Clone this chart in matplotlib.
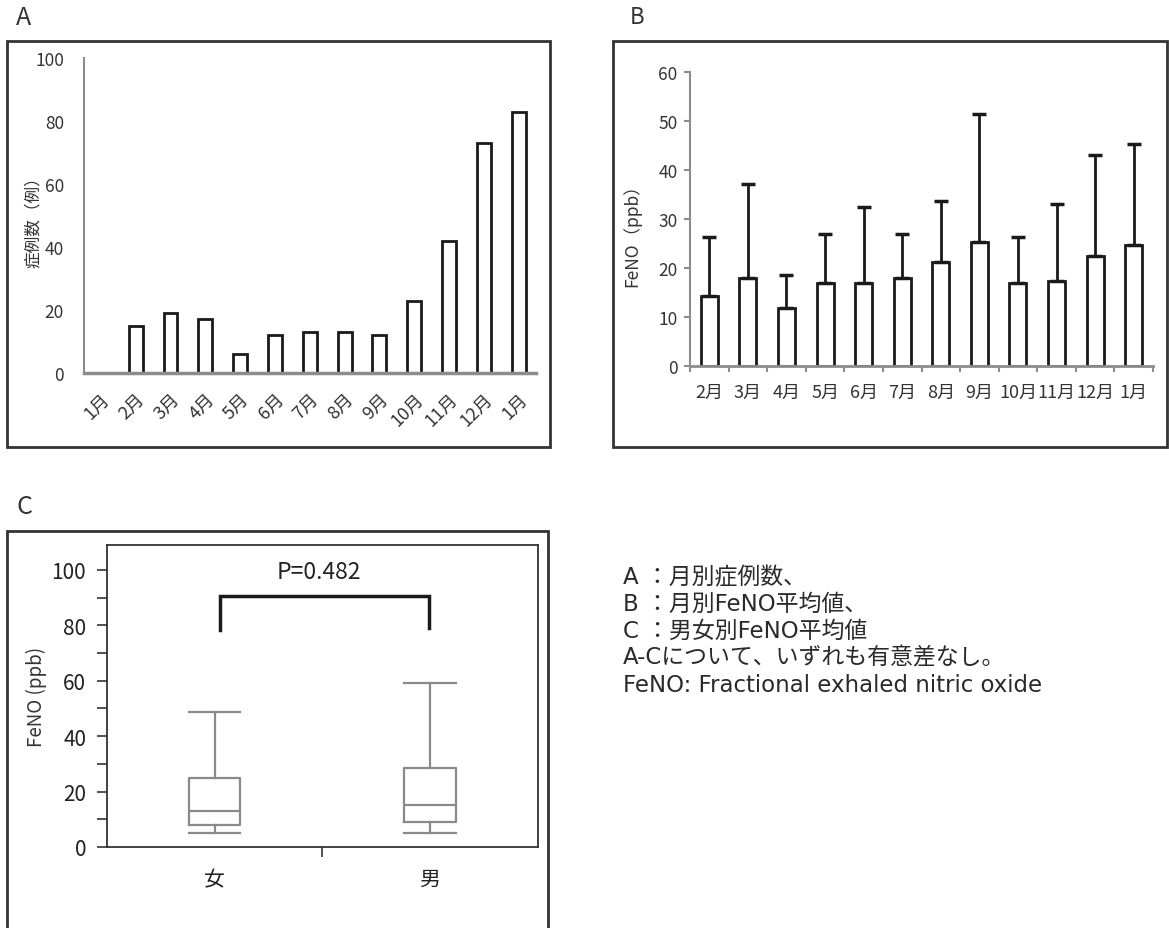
import matplotlib
matplotlib.use("Agg")
import matplotlib.pyplot as plt
from matplotlib.patches import Rectangle

plt.rcParams['font.family'] = ['Noto Sans CJK JP', 'DejaVu Sans']

# A: monthly case counts
months_a = ['1月', '2月', '3月', '4月', '5月', '6月', '7月', '8月', '9月',
            '10月', '11月', '12月', '1月']
cases = [0, 15, 19, 17, 6, 12, 13, 13, 12, 23, 42, 73, 83]

# B: monthly FeNO mean and SD
months_b = ['2月', '3月', '4月', '5月', '6月', '7月', '8月', '9月',
            '10月', '11月', '12月', '1月']
feno_mean = [14.2, 18.0, 11.8, 16.9, 16.9, 18.0, 21.3, 25.3, 16.9, 17.4, 22.5, 24.7]
feno_sd = [12.1, 19.1, 6.7, 10.0, 15.6, 8.9, 12.3, 26.2, 9.4, 15.7, 20.6, 20.7]

# C: FeNO by sex (box plot stats)
sexes = ['女', '男']
whis_lo = [5, 5]
q1 = [7.8, 9.0]
median = [12.9, 15.3]
q3 = [24.9, 28.5]
whis_hi = [48.6, 59.1]
p_label = 'P=0.482'

notes = ['A ：月別症例数、',
         'B ：月別FeNO平均値、',
         'C ：男女別FeNO平均値',
         'A-Cについて、いずれも有意差なし。',
         'FeNO: Fractional exhaled nitric oxide']

W, H = 1169, 929
fig = plt.figure(figsize=(W / 100, H / 100), dpi=100)


def fx(px):
    return px / W


def fy(py):
    return 1 - py / H


def frame(x0, y0, x1, y1):
    fig.patches.append(Rectangle((fx(x0), fy(y1)), fx(x1 - x0), (y1 - y0) / H,
                                 transform=fig.transFigure, fill=False,
                                 edgecolor='#333333', lw=2))


dark = '#333333'
gray = '#8c8c8c'

# ---- panel A ----
frame(7, 42, 550, 448)
fig.text(fx(16), fy(18), 'A', fontsize=18, color=dark, va='center')
ax = fig.add_axes([fx(83.5), fy(374), fx(452.5), 315 / H])
x = range(len(cases))
ax.bar(x, cases, width=0.4, facecolor='white', edgecolor='#1a1a1a', lw=2)
ax.set_xlim(-0.5, len(cases) - 0.5)
ax.set_ylim(0, 100)
ax.set_yticks([0, 20, 40, 60, 80, 100])
ax.set_xticks(list(x))
ax.set_xticklabels(months_a, rotation=45, ha='right', rotation_mode='anchor',
                   fontsize=13, color=dark)
for s in ['top', 'right']:
    ax.spines[s].set_visible(False)
ax.spines['left'].set_color(gray)
ax.spines['left'].set_linewidth(1.5)
ax.spines['bottom'].set_color(gray)
ax.spines['bottom'].set_linewidth(2.5)
ax.tick_params(axis='both', length=0, labelsize=12.5, labelcolor=dark)
ax.tick_params(axis='y', pad=14)
ax.tick_params(axis='x', pad=12, labelsize=13)
fig.text(fx(33), fy(218), '症例数（例）', rotation=90, ha='center', va='center',
         fontsize=12, color=dark)

# ---- panel B ----
frame(613, 42, 1167, 448)
fig.text(fx(630), fy(18), 'B', fontsize=16, color=dark, va='center')
bx = fig.add_axes([fx(690), fy(367), fx(463), 294 / H])
xb = range(len(feno_mean))
bx.bar(xb, feno_mean, width=0.44, facecolor='white', edgecolor='#1a1a1a', lw=2,
       yerr=[[0] * len(feno_sd), feno_sd],
       error_kw=dict(ecolor='#1a1a1a', elinewidth=2, capsize=5, capthick=2.5))
bx.set_xlim(-0.5, len(feno_mean) - 0.5)
bx.set_ylim(0, 60)
bx.set_yticks(range(0, 61, 10))
bx.set_xticks(list(xb))
bx.set_xticklabels(months_b)
bx.set_xticks([i + 0.5 for i in range(-1, len(feno_mean))], minor=True)
for s in ['top', 'right']:
    bx.spines[s].set_visible(False)
bx.spines['left'].set_color(gray)
bx.spines['left'].set_linewidth(1.5)
bx.spines['bottom'].set_color(gray)
bx.spines['bottom'].set_linewidth(2)
bx.tick_params(axis='x', which='major', length=0, pad=12, labelsize=13,
               labelcolor=dark)
bx.tick_params(axis='x', which='minor', length=4, width=1.5, color=gray)
bx.tick_params(axis='y', length=4, width=1.5, color=gray, labelsize=12.5,
               labelcolor=dark, pad=5)
fig.text(fx(632), fy(231), 'FeNO（ppb）', rotation=90, ha='center', va='center',
         fontsize=12.5, color=dark)

# ---- panel C ----
frame(7, 532, 548, 960)
fig.text(fx(17), fy(507), 'C', fontsize=18, color=dark, va='center')
cx = fig.add_axes([fx(107), fy(848), fx(430.5), 302 / H])
stats = []
for i in range(len(sexes)):
    stats.append(dict(med=median[i], q1=q1[i], q3=q3[i], whislo=whis_lo[i],
                      whishi=whis_hi[i], fliers=[], label=sexes[i]))
gline = dict(color='#8a8a8a', lw=1.6)
cx.bxp(stats, positions=[1, 2], widths=0.24, showfliers=False,
       boxprops=gline, whiskerprops=gline, capprops=gline, medianprops=gline,
       capwidths=0.24)
cx.set_xlim(0.5, 2.5)
cx.set_ylim(0, 109)
cx.set_yticks(range(0, 101, 20))
cx.set_yticks(range(10, 101, 20), minor=True)
cx.set_xticks([1.5], minor=True)
for s in cx.spines.values():
    s.set_color(dark)
    s.set_linewidth(1.3)
cx.tick_params(axis='y', which='both', length=7, width=1.2, color=dark,
               labelsize=15, labelcolor='#222222', pad=8)
cx.tick_params(axis='x', which='major', length=0, pad=15, labelsize=15,
               labelcolor='#222222')
cx.tick_params(axis='x', which='minor', length=7, width=1.2, color=dark)
bracket_y = 90.7
cx.plot([1.025, 1.025, 1.994, 1.994], [78.5, bracket_y, bracket_y, 79],
        color='#1a1a1a', lw=2.5, solid_joinstyle='miter')
cx.text(1.485, 99.4, p_label, ha='center', va='center', fontsize=16.5,
        color='#222222')
fig.text(fx(36), fy(697), 'FeNO (ppb)', rotation=90, ha='center', va='center',
         fontsize=13.5, color=dark)

# ---- notes ----
for i, line in enumerate(notes):
    fig.text(fx(623), fy(578 + i * 26.8), line, fontsize=16.5, color='#2a2a2a',
             va='center', ha='left', family=['DejaVu Sans', 'Noto Sans CJK JP'])

fig.savefig('out.png', dpi=100)
